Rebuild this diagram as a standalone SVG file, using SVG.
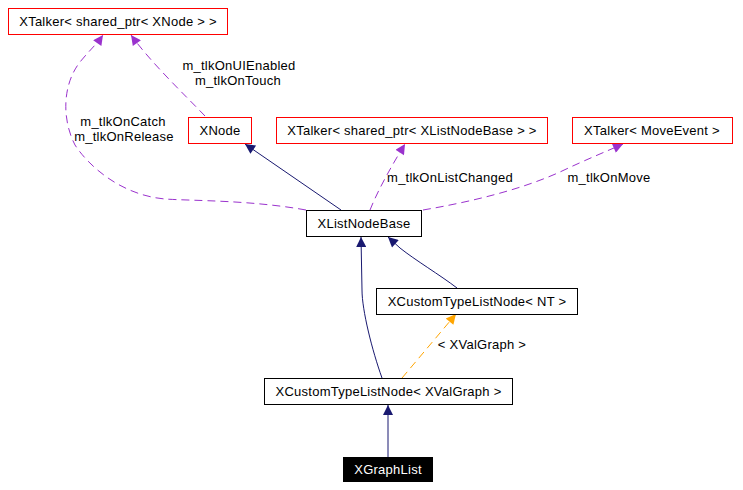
<svg xmlns="http://www.w3.org/2000/svg" width="743" height="490" viewBox="0 0 743 490">
<style>
text{font-family:"Liberation Sans",Arial,sans-serif;font-size:13px;letter-spacing:0.25px;fill:#000;text-anchor:middle}
.n rect{fill:#fff;stroke:#000;stroke-width:1}
.r rect{stroke:#ff0000}
.b rect{fill:#000}
.b text{fill:#fff}
.e path{fill:none;stroke-width:1}
.nv{stroke:#191970}
.pu{stroke:#9a32cd;stroke-dasharray:8,5}
.or{stroke:#ffa500;stroke-dasharray:8,5}
</style>
<defs>
<marker id="aN" viewBox="0 0 10 10" refX="10" refY="5" markerUnits="userSpaceOnUse" markerWidth="13" markerHeight="10" orient="auto"><path d="M0,0L10,5L0,10z" fill="#191970"/></marker>
<marker id="aP" viewBox="0 0 10 10" refX="10" refY="5" markerUnits="userSpaceOnUse" markerWidth="13" markerHeight="10" orient="auto"><path d="M0,0L10,5L0,10z" fill="#9a32cd"/></marker>
<marker id="aO" viewBox="0 0 10 10" refX="10" refY="5" markerUnits="userSpaceOnUse" markerWidth="13" markerHeight="10" orient="auto"><path d="M0,0L10,5L0,10z" fill="#ffa500"/></marker>
</defs>
<rect width="743" height="490" fill="#fff"/>
<g id="edges" class="e">
<path class="pu" d="M205,116 C185,95 152,64 131,35" marker-end="url(#aP)"/>
<path class="pu" d="M306,210 C250,200 195,201 165,199 C120,195 88,165 75,145 C62,120 62,85 80,62 C88,52 96,45 103,35" marker-end="url(#aP)"/>
<path class="nv" d="M341,210 L245,144" marker-end="url(#aN)"/>
<path class="pu" d="M370,210 C378,190 392,165 405,144" marker-end="url(#aP)"/>
<path class="pu" d="M423,210 C470,202 520,190 560,172 C585,160 605,152 623,144" marker-end="url(#aP)"/>
<path class="nv" d="M457,288 C440,275 415,260 400,248 L388,237" marker-end="url(#aN)"/>
<path class="nv" d="M382,378 C372,350 362,310 362,290 L361,237" marker-end="url(#aN)"/>
<path class="or" d="M402,378 L456,314" marker-end="url(#aO)"/>
<path class="nv" d="M388,457 L388,405" marker-end="url(#aN)"/>
<text x="239" y="70">m_tlkOnUIEnabled</text>
<text x="238" y="85">m_tlkOnTouch</text>
<text x="123" y="126">m_tlkOnCatch</text>
<text x="124" y="141">m_tlkOnRelease</text>
<text x="450" y="182">m_tlkOnListChanged</text>
<text x="609" y="182">m_tlkOnMove</text>
<text x="482" y="349">&lt; XValGraph &gt;</text>
</g>
<g id="n_talker_xnode" class="n r"><rect x="8.5" y="8.5" width="219" height="26"/><text x="118" y="25.5">XTalker&lt; shared_ptr&lt; XNode &gt; &gt;</text></g>
<g id="n_xnode" class="n r"><rect x="188.5" y="117.5" width="63" height="26"/><text x="220" y="135">XNode</text></g>
<g id="n_talker_listnode" class="n r"><rect x="276.5" y="117.5" width="271" height="26"/><text x="412" y="135">XTalker&lt; shared_ptr&lt; XListNodeBase &gt; &gt;</text></g>
<g id="n_talker_move" class="n r"><rect x="572.5" y="117.5" width="160" height="26"/><text x="652" y="135">XTalker&lt; MoveEvent &gt;</text></g>
<g id="n_xlistnodebase" class="n"><rect x="306.5" y="210.5" width="115" height="26"/><text x="364" y="228">XListNodeBase</text></g>
<g id="n_custom_nt" class="n"><rect x="376.5" y="288.5" width="201" height="26"/><text x="477" y="305.5">XCustomTypeListNode&lt; NT &gt;</text></g>
<g id="n_custom_valgraph" class="n"><rect x="264.5" y="378.5" width="248" height="26"/><text x="388.5" y="396">XCustomTypeListNode&lt; XValGraph &gt;</text></g>
<g id="n_xgraphlist" class="n b"><rect x="343.5" y="457.5" width="89" height="24"/><text x="388" y="474">XGraphList</text></g>
</svg>
